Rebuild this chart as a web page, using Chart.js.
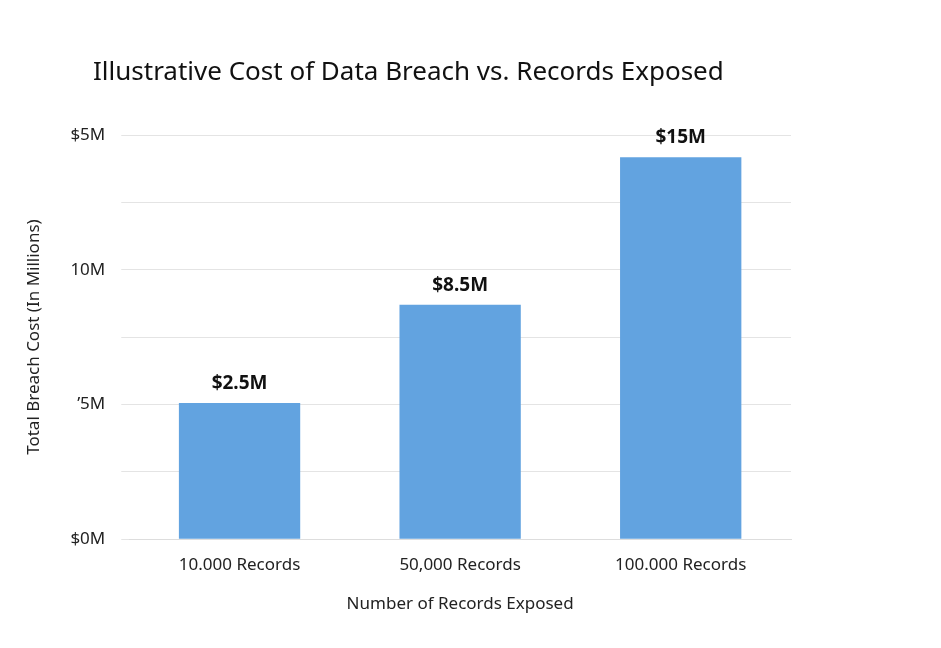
<!DOCTYPE html>
<html>
<head>
<meta charset="utf-8">
<script src="https://cdn.jsdelivr.net/npm/chart.js@4"></script>
<style>
  body { margin: 0; background: #fff; }
  #wrap { width: 941px; height: 648px; }
</style>
</head>
<body>
<div id="wrap"><canvas id="breachChart"></canvas></div>
<script>
const categories = ['10.000 Records', '50,000 Records', '100.000 Records'];
const barHeights = [2.02, 3.48, 5.67];
const valueLabels = ['$2.5M', '$8.5M', '$15M'];
const tickLabels = ['$0M', '', '\u20195M', '', '10M', '', '$5M'];
const chartTitle = 'Illustrative Cost of Data Breach vs. Records Exposed';

const valueLabelPlugin = {
    id: 'valueLabels',
    afterDatasetsDraw(chart) {
        const ctx = chart.ctx;
        const meta = chart.getDatasetMeta(0);
        ctx.save();
        ctx.font = 'bold 19px "Noto Sans", sans-serif';
        ctx.fillStyle = '#111';
        ctx.textAlign = 'center';
        ctx.textBaseline = 'bottom';
        meta.data.forEach((bar, i) => {
            ctx.fillText(valueLabels[i], bar.x, bar.y - 10);
        });
        // title drawn here so it can sit at a fixed left offset
        ctx.font = '26px "Noto Sans", sans-serif';
        ctx.textAlign = 'left';
        ctx.textBaseline = 'middle';
        ctx.fillText(chartTitle, 93, 73);
        ctx.restore();
    }
};

const ctx = document.getElementById('breachChart').getContext('2d');
new Chart(ctx, {
    type: 'bar',
    data: {
        labels: categories,
        datasets: [{
            data: barHeights,
            backgroundColor: '#62a3e0',
            borderWidth: 0,
            barPercentage: 0.55,
            categoryPercentage: 1.0
        }]
    },
    options: {
        responsive: true,
        maintainAspectRatio: false,
        animation: false,
        layout: { padding: { left: 20, right: 150, top: 135, bottom: 30 } },
        plugins: {
            legend: { display: false },
            tooltip: { enabled: false },
            title: { display: false }
        },
        scales: {
            x: {
                grid: { display: false },
                border: { color: '#ddd' },
                ticks: { color: '#222', font: { family: 'Noto Sans', size: 17 }, padding: 8 },
                title: {
                    display: true, text: 'Number of Records Exposed', color: '#222',
                    font: { family: 'Noto Sans', size: 17 }, padding: { top: 10 }
                }
            },
            y: {
                min: 0, max: 6,
                grid: { color: '#e4e4e4' },
                border: { display: false },
                ticks: {
                    stepSize: 1,
                    color: '#222',
                    font: { family: 'Noto Sans', size: 17 },
                    padding: 16,
                    callback: (v) => tickLabels[v]
                },
                title: {
                    display: true, text: 'Total Breach Cost (In Millions)', color: '#222',
                    font: { family: 'Noto Sans', size: 17 }, padding: { bottom: 10 }
                }
            }
        }
    },
    plugins: [valueLabelPlugin]
});
</script>
</body>
</html>
